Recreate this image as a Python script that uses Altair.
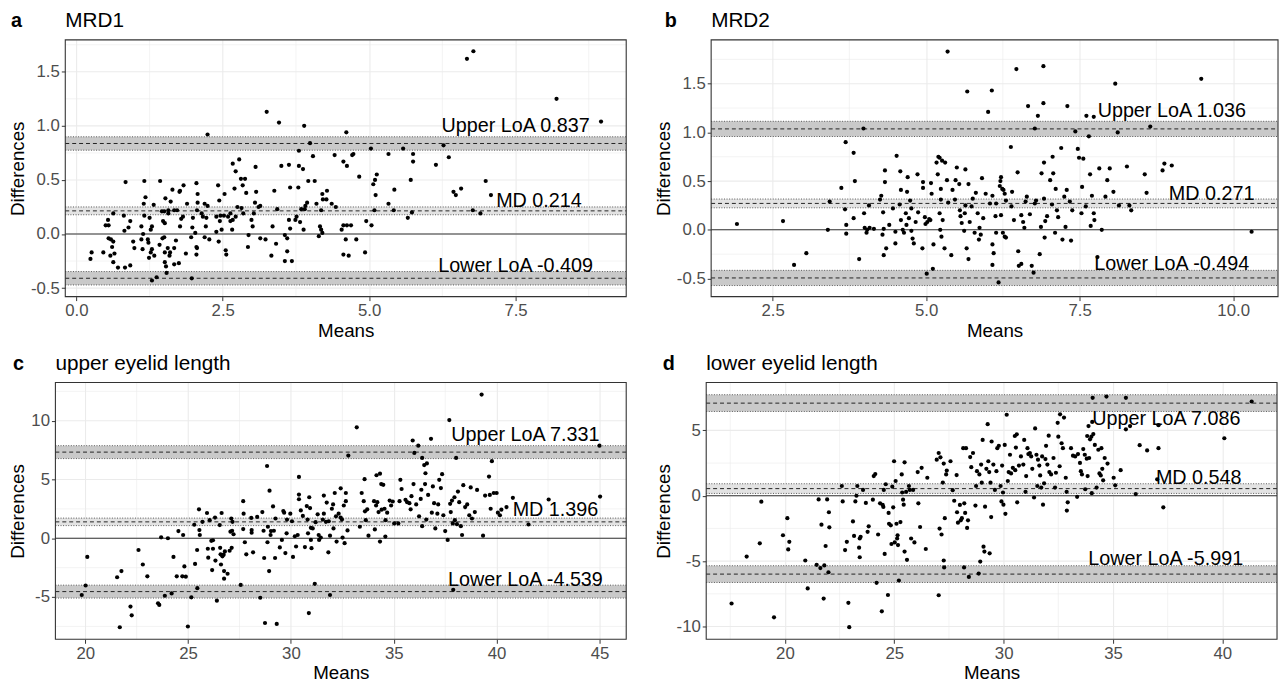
import altair as alt
import pandas as pd

FONT = "Liberation Sans"

# ---------------- data ----------------
A_POINTS = [(6.67,1.62),(6.78,1.69),(8.2,1.25),(8.96,1.04),(3.25,1.13),(3.46,1.03),(3.89,1.0),(2.24,0.92),(4.61,0.94),(3.99,0.84),(6.27,0.82),
(5.03,0.79),(5.58,0.79),(5.75,0.74),(5.33,0.74),(4.04,0.72),(4.41,0.73),(4.71,0.73),(4.73,0.74),(6.36,0.71),(3.80,0.77),(5.75,0.67),(6.14,0.64),(4.56,0.67),(4.62,0.63),(2.67,0.65),(2.78,0.69),(2.72,0.58),(3.06,0.62),(3.5,0.63),(3.63,0.64),(3.8,0.63),(3.87,0.6),(4.83,0.53),(5.13,0.55),(5.1,0.5),(5.07,0.46),(5.71,0.5),(6.99,0.49),(7.08,0.36),(6.44,0.39),(6.48,0.36),(6.57,0.42),(6.90,0.19),(6.77,0.22),(5.73,0.2),(5.66,0.15),(5.43,0.41),(5.33,0.28),(5.42,0.22),(5.09,0.22),(5.11,0.36),(4.95,0.12),(5.04,0.08),(4.56,0.08),(4.62,0.08),(4.69,0.08),(4.53,0.04),(4.78,-0.05),(4.6,-0.05),(4.56,-0.19),(4.65,-0.2),(4.93,-0.17),(4.43,0.25),(4.36,0.28),(4.28,0.40),(4.2,0.37),(4.27,0.32),(4.07,0.49),(3.96,0.49),(4.21,0.32),(4.1,0.28),(4.18,0.22),(4.16,0.07),(4.18,0.04),(4.14,-0.02),(4.2,0.01),(3.88,0.04),(3.9,0.23),(3.94,0.29),(3.91,0.26),(3.84,0.23),(3.76,0.16),(3.82,0.11),(3.74,0.13),(3.63,0.13),(3.65,0.05),(3.56,-0.01),(3.6,-0.04),(3.6,-0.16),(3.56,-0.25),(3.68,-0.25),(3.41,-0.09),(3.33,-0.2),(3.35,0.07),(3.43,0.23),(3.38,0.4),(3.79,0.43),(3.65,0.43),(3.23,-0.05),(3.14,-0.04),(2.93,-0.12),(2.94,-0.01),(3.01,0.07),(2.99,0.13),(3.03,0.19),(3.11,0.25),(3.05,0.29),(3.14,0.26),(3.07,0.39),(2.9,0.38),(2.84,0.45),(2.88,0.51),(2.81,0.51),(2.82,0.24),(2.75,0.25),(2.85,0.19),(2.72,0.16),(2.67,0.13),(2.63,0.12),(2.59,0.16),(2.52,0.17),(2.63,0.19),(2.44,0.31),(2.53,0.37),(2.42,0.45),(2.70,0.42),(2.66,0.04),(2.55,-0.15),(2.56,-0.19),(2.43,-0.07),(2.48,0.04),(2.39,0.02),(2.39,0.16),(2.45,0.12),(2.46,0.17),(2.24,0.26),(2.19,0.28),(2.14,0.19),(2.07,0.29),(2.07,0.37),(2.05,0.47),(2.06,0.22),(2.16,0.16),(2.22,0.15),(2.21,0.07),(2.19,-0.03),(2.27,-0.05),(2.03,0.01),(2.06,-0.13),(2.05,-0.12),(2.05,-0.19),(1.96,-0.03),(1.98,0.06),(1.99,0.15),(1.97,-0.41),(1.89,0.28),(1.82,0.16),(1.79,0.14),(1.77,0.07),(1.83,0.45),(1.77,0.4),(1.76,0.39),(1.64,0.41),(1.67,0.22),(1.72,0.22),(1.57,0.22),(1.50,0.21),(1.46,0.21),(1.52,0.33),(1.61,0.30),(1.57,0.19),(1.51,0.10),(1.48,0.12),(1.43,0.49),(1.42,-0.1),(1.5,-0.03),(1.47,-0.04),(1.51,-0.17),(1.60,-0.17),(1.59,-0.2),(1.56,-0.13),(1.67,-0.13),(1.70,-0.06),(1.67,-0.28),(1.51,-0.26),(1.53,-0.3),(1.54,-0.36),(1.75,-0.27),(1.87,-0.18),(1.37,-0.40),(1.29,-0.43),(1.33,-0.20),(1.27,-0.17),(1.29,-0.14),(1.27,0.04),(1.29,0.07),(1.32,0.27),(1.25,0.15),(1.22,-0.05),(1.24,-0.22),(1.23,-0.08),(1.18,0.34),(1.15,0.28),(1.16,0.49),(1.16,0.17),(1.14,0.00),(1.11,0.07),(1.11,-0.05),(1.13,-0.14),(0.99,-0.13),(0.97,-0.07),(0.92,0.12),(0.89,0.06),(0.84,0.48),(0.82,0.03),(0.83,-0.31),(0.92,-0.29),(0.71,-0.31),(0.81,0.17),(0.65,-0.18),(0.58,-0.20),(0.63,-0.26),(0.61,-0.12),(0.59,-0.05),(0.63,-0.07),(0.55,-0.04),(0.50,0.08),(0.54,0.13),(0.55,0.08),(0.63,0.19),(0.46,-0.17),(0.26,-0.17),(0.24,-0.23)]

B_POINTS = [(1.92,0.06),(2.67,0.09),(2.85,-0.36),(3.05,-0.24),(3.4,0.0),(3.43,0.29),(3.62,0.43),(3.69,0.9),(3.82,0.79),(3.84,0.5),(3.68,0.21),(3.7,0.05),(3.7,-0.04),(3.82,0.12),(3.91,-0.30),(3.98,1.04),(3.99,0.17),(4.0,0.02),(4.04,0.0),(4.03,-0.03),(4.08,0.02),(4.15,0.01),(4.07,0.25),(4.25,0.31),(4.27,0.35),(4.33,0.61),(4.33,0.49),(4.3,0.18),(4.31,0.01),(4.31,-0.26),(4.35,-0.19),(4.29,-0.05),(4.4,0.05),(4.46,0.22),(4.5,-0.02),(4.52,0.76),(4.5,-0.14),(4.57,0.26),(4.59,0.41),(4.58,0.6),(4.59,0.1),(4.62,0.0),(4.64,-0.03),(4.68,0.05),(4.67,0.17),(4.69,0.39),(4.7,0.54),(4.74,0.3),(4.76,0.22),(4.72,0.12),(4.76,-0.01),(4.78,-0.09),(4.8,-0.14),(4.83,0.08),(4.87,0.18),(4.86,0.57),(4.94,-0.19),(4.95,0.49),(4.95,0.43),(4.98,0.13),(4.99,0.06),(5.02,0.08),(5.01,-0.45),(5.07,0.10),(5.08,0.48),(5.09,0.37),(5.05,0.11),(5.11,-0.40),(5.12,-0.15),(5.19,0.57),(5.17,0.69),(5.2,0.75),(5.22,0.74),(5.26,0.71),(5.31,0.69),(5.24,0.42),(5.24,0.31),(5.22,0.17),(5.23,0.0),(5.25,-0.07),(5.27,0.1),(5.3,-0.19),(5.35,1.83),(5.34,0.51),(5.36,0.28),(5.41,-0.26),(5.43,0.41),(5.47,0.31),(5.48,0.51),(5.5,0.64),(5.54,0.47),(5.55,0.2),(5.56,0.14),(5.58,0.07),(5.62,-0.01),(5.63,0.17),(5.64,0.62),(5.64,0.25),(5.66,-0.19),(5.67,1.42),(5.69,-0.30),(5.69,0.47),(5.71,0.08),(5.74,0.24),(5.76,0.32),(5.79,-0.03),(5.81,0.38),(5.84,0.17),(5.86,-0.10),(5.87,0.02),(5.89,-0.05),(5.91,0.53),(5.93,0.12),(5.97,0.37),(6.01,1.21),(6.04,0.27),(6.07,1.43),(6.08,0.35),(6.08,-0.15),(6.08,-0.36),(6.1,-0.24),(6.14,-0.03),(6.13,0.14),(6.14,0.27),(6.18,-0.54),(6.2,0.45),(6.22,0.54),(6.21,0.5),(6.24,0.42),(6.26,0.41),(6.28,0.37),(6.3,0.3),(6.22,0.15),(6.25,-0.03),(6.28,-0.07),(6.3,-0.08),(6.38,0.85),(6.4,0.39),(6.39,0.24),(6.43,0.10),(6.47,1.65),(6.49,0.59),(6.5,-0.22),(6.51,-0.37),(6.55,-0.35),(6.55,0.15),(6.58,0.08),(6.6,0.02),(6.62,0.29),(6.64,0.34),(6.66,1.27),(6.69,0.16),(6.72,-0.37),(6.75,-0.44),(6.77,1.04),(6.77,0.27),(6.79,0.30),(6.82,1.17),(6.85,-0.25),(6.87,0.03),(6.88,0.58),(6.91,1.3),(6.91,1.68),(6.92,0.69),(6.92,0.32),(6.93,-0.08),(6.94,0.09),(6.97,0.14),(7.02,0.51),(7.05,0.26),(7.06,0.75),(7.07,0.58),(7.1,-0.03),(7.11,0.42),(7.13,0.20),(7.15,0.13),(7.2,0.84),(7.22,-0.1),(7.25,0.34),(7.27,0.03),(7.3,1.27),(7.29,0.41),(7.34,0.29),(7.36,-0.11),(7.38,0.2),(7.43,1.01),(7.47,0.83),(7.49,0.74),(7.53,0.17),(7.56,0.73),(7.54,0.44),(7.61,1.17),(7.6,0.24),(7.65,0.96),(7.67,0.57),(7.68,0.04),(7.7,0.35),(7.73,1.16),(7.73,0.17),(7.74,0.10),(7.82,0.63),(7.86,0.0),(7.92,0.34),(7.95,0.51),(7.99,0.63),(8.05,0.39),(8.08,1.5),(8.12,1.0),(8.14,0.25),(8.27,0.65),(8.31,0.25),(8.34,0.2),(8.56,0.57),(8.59,0.38),(8.65,1.06),(8.85,0.61),(8.88,0.68),(9.0,0.66),(9.48,1.55),(10.3,-0.02),(7.79,-0.28)]

C_POINTS = [(19.83,-4.83),(20.02,-4.02),(20.1,-1.59),(21.55,-3.32),(21.68,-7.57),(21.76,-2.79),(22.2,-5.81),(22.26,-6.56),(22.59,-1.0),(22.8,-2.23),(23.02,-3.24),(23.54,-5.53),(23.6,-5.67),(23.69,0.08),(23.87,-4.89),(24.02,0.0),(24.2,-4.69),(24.29,-1.59),(24.45,-3.24),(24.53,0.61),(24.76,0.28),(24.82,-2.40),(24.72,-3.24),(24.89,-3.27),(24.99,-7.51),(25.16,-5.03),(25.3,1.15),(25.34,-2.18),(25.44,-1.0),(25.45,-4.25),(25.53,2.46),(25.55,0.70),(25.57,0.28),(25.7,1.40),(25.92,2.15),(25.96,-0.89),(25.98,-1.65),(26.05,1.54),(26.17,-2.71),(26.13,-0.22),(26.21,-0.17),(26.21,-0.89),(26.31,1.76),(26.33,-1.90),(26.4,-5.31),(26.54,1.12),(26.56,-0.81),(26.58,-1.37),(26.63,2.15),(26.67,-1.54),(26.73,-1.40),(26.6,-2.23),(26.75,-2.79),(26.75,-3.44),(26.79,-1.12),(26.92,-3.02),(27.02,-1.06),(27.1,1.68),(27.06,0.56),(27.12,-0.81),(27.16,1.4),(27.14,0.64),(27.21,0.34),(27.56,-3.97),(27.68,3.16),(27.68,0.78),(27.7,2.09),(27.76,-0.34),(27.83,-1.37),(28.07,1.73),(28.09,0.70),(28.09,0.47),(28.16,-1.20),(28.36,1.82),(28.51,-5.06),(28.61,2.23),(28.67,0.64),(28.7,-1.68),(28.74,-7.21),(28.84,6.15),(28.86,-0.34),(28.88,0.98),(28.94,-2.79),(28.96,4.05),(29.01,0.28),(29.03,0.61),(29.13,2.71),(29.17,0.64),(29.23,-1.68),(29.25,1.68),(29.31,-7.29),(29.46,-0.78),(29.56,-0.14),(29.63,2.32),(29.67,2.18),(29.73,-1.26),(29.79,0.42),(29.81,1.59),(29.97,2.09),(30.05,1.45),(30.1,-1.59),(30.19,0.17),(30.25,-0.70),(30.33,0.28),(30.39,3.72),(30.39,5.22),(30.39,3.32),(30.48,2.37),(30.58,1.90),(30.68,-0.75),(30.77,2.74),(30.81,1.59),(30.83,0.42),(30.87,-6.37),(30.89,3.49),(30.93,2.57),(30.97,-0.14),(30.97,0.89),(31.06,0.84),(31.0,-0.84),(31.16,-3.88),(31.2,1.37),(31.3,2.04),(31.35,0.28),(31.37,-0.14),(31.45,0.06),(31.55,1.59),(31.6,2.09),(31.6,3.63),(31.7,1.40),(31.74,3.04),(31.82,-1.20),(31.84,1.45),(31.9,-4.83),(31.9,0.22),(31.99,2.51),(32.05,2.88),(32.07,0.84),(32.13,3.85),(32.19,1.87),(32.22,-0.28),(32.32,2.09),(32.42,4.25),(32.42,1.76),(32.48,1.59),(32.51,0.06),(32.57,2.79),(32.61,-0.42),(32.67,3.85),(32.67,3.16),(32.75,0.67),(32.79,7.04),(33.2,9.44),(33.35,0.98),(33.44,3.85),(33.54,3.16),(33.58,5.03),(33.6,2.29),(33.64,1.54),(33.71,2.46),(33.77,0.22),(34.04,3.16),(34.08,0.75),(34.14,2.79),(34.16,5.36),(34.2,3.07),(34.26,2.23),(34.33,5.5),(34.33,-0.28),(34.39,4.61),(34.41,2.43),(34.49,4.55),(34.55,2.51),(34.59,0.14),(34.6,1.54),(34.68,2.18),(34.8,3.21),(34.87,2.79),(34.95,3.13),(35.02,1.26),(35.22,1.26),(35.28,3.16),(35.32,4.97),(35.38,4.19),(35.57,3.27),(35.65,3.07),(35.76,2.99),(35.82,2.46),(35.86,3.58),(35.92,8.32),(35.96,4.61),(36.0,7.26),(36.09,2.88),(36.19,7.88),(36.23,1.87),(36.31,3.35),(36.34,4.13),(36.38,6.84),(36.38,1.03),(36.48,6.23),(36.52,4.61),(36.54,5.53),(36.58,1.59),(36.61,6.37),(36.67,3.69),(36.81,8.46),(36.85,2.18),(36.9,4.41),(36.96,2.99),(37.02,0.84),(37.12,2.09),(37.16,2.88),(37.21,4.97),(37.29,4.27),(37.35,5.45),(37.41,1.96),(37.5,0.61),(37.62,-0.14),(37.7,10.06),(37.74,2.93),(37.77,2.23),(37.83,3.21),(37.87,1.26),(37.89,-4.39),(37.95,3.49),(37.97,1.54),(38.03,6.84),(38.07,1.20),(38.12,3.97),(38.18,3.07),(38.26,1.03),(38.32,0.28),(38.38,4.52),(38.47,2.65),(38.57,2.88),(38.67,1.96),(38.74,4.33),(38.8,1.68),(38.94,2.23),(39.05,4.11),(39.27,12.23),(39.34,0.22),(39.44,3.63),(39.63,5.25),(39.67,3.69),(39.71,2.51),(39.77,6.56),(39.86,3.85),(40.0,3.85),(40.06,2.18),(40.16,1.96),(40.23,2.43),(40.79,3.44),(40.48,2.65),(41.55,1.17),(42.53,3.3),(45.0,7.88),(45.03,3.55)]

D_POINTS = [(17.56,-8.24),(18.25,-4.65),(18.85,-3.64),(18.92,-0.45),(19.5,-9.3),(19.91,-3.02),(20.11,-1.71),(20.15,-4.1),(20.2,-3.52),(20.93,-4.95),(21.04,-7.09),(21.45,-5.28),(21.54,-0.28),(21.62,-5.53),(21.67,-2.21),(21.77,-7.86),(21.8,-5.33),(21.86,-3.84),(21.93,-0.28),(21.99,-5.85),(22.01,-1.26),(22.03,-2.41),(22.6,0.75),(22.64,-0.43),(22.75,-4.15),(22.83,-3.52),(22.9,-8.19),(22.94,-10.05),(23.11,-1.96),(23.16,-3.07),(23.22,-0.43),(23.27,0.0),(23.31,0.75),(23.39,-3.97),(23.42,-3.27),(23.42,-4.70),(23.46,-3.14),(23.57,0.45),(23.7,-0.55),(23.78,-2.76),(23.83,-2.34),(24.02,-0.30),(24.06,1.51),(24.13,1.66),(24.19,-6.66),(24.26,-2.96),(24.35,-0.58),(24.43,-8.84),(24.47,-0.70),(24.5,-0.85),(24.52,0.45),(24.56,-4.45),(24.61,0.88),(24.71,-7.59),(24.74,-1.31),(24.76,-2.14),(24.84,-2.26),(24.87,-3.69),(24.91,0.70),(24.95,-0.88),(24.99,2.64),(25.02,-3.57),(25.06,1.13),(25.1,-2.14),(25.13,-3.27),(25.15,-3.02),(25.17,-3.77),(25.21,-6.48),(25.28,-2.01),(25.34,1.63),(25.36,0.25),(25.4,-0.30),(25.43,-0.68),(25.47,2.56),(25.47,-4.27),(25.54,0.30),(25.58,-4.90),(25.67,0.75),(25.71,0.45),(25.77,-3.27),(25.86,0.45),(25.92,-3.57),(26.07,1.81),(26.1,-0.58),(26.18,-2.39),(26.25,2.14),(26.44,-4.07),(26.51,1.38),(26.94,2.76),(27.03,3.27),(27.03,-7.61),(27.07,-2.51),(27.11,2.94),(27.16,-2.96),(27.22,1.01),(27.26,-4.95),(27.28,-5.48),(27.26,2.46),(27.31,-1.71),(27.37,1.63),(27.4,1.93),(27.57,2.64),(27.67,0.43),(27.74,-0.38),(27.85,1.58),(27.87,-1.26),(27.91,-2.06),(28.0,-0.70),(28.04,-1.88),(28.09,-1.71),(28.15,3.64),(28.19,-5.48),(28.2,-0.58),(28.24,-1.31),(28.28,3.64),(28.33,-2.46),(28.37,-1.88),(28.41,-6.21),(28.47,2.96),(28.52,2.19),(28.6,3.27),(28.71,-0.75),(28.74,0.75),(28.78,1.88),(28.86,-5.95),(28.89,1.63),(28.93,-5.03),(28.97,2.39),(29.0,1.0),(29.04,4.27),(29.08,-3.89),(29.12,-4.27),(29.15,-0.83),(29.21,2.06),(29.27,5.48),(29.3,2.64),(29.34,1.81),(29.36,-4.40),(29.4,1.0),(29.43,-1.63),(29.45,4.15),(29.53,2.39),(29.6,0.45),(29.67,1.88),(29.71,3.64),(29.78,3.82),(29.86,0.75),(29.9,-0.43),(29.93,2.31),(29.97,0.25),(29.99,-0.68),(30.05,3.89),(30.08,-1.38),(30.14,6.2),(30.19,1.13),(30.23,1.81),(30.29,3.14),(30.34,1.71),(30.42,2.14),(30.51,4.57),(30.53,1.96),(30.56,3.69),(30.6,4.70),(30.62,-0.50),(30.7,2.31),(30.79,3.01),(30.9,2.39),(30.94,4.27),(31.0,0.30),(31.03,1.51),(31.09,3.64),(31.13,3.19),(31.2,3.27),(31.26,3.01),(31.31,2.06),(31.39,-0.13),(31.44,5.15),(31.5,3.14),(31.54,0.75),(31.57,2.76),(31.63,2.31),(31.67,1.56),(31.72,0.63),(31.76,3.01),(31.8,-0.68),(31.85,0.95),(31.91,2.81),(31.94,3.82),(32.0,2.39),(32.06,4.60),(32.09,1.81),(32.17,1.63),(32.28,2.89),(32.35,0.63),(32.39,1.76),(32.47,5.58),(32.5,4.52),(32.56,2.26),(32.58,6.23),(32.65,4.02),(32.71,3.64),(32.76,5.98),(32.84,1.38),(32.88,0.30),(32.89,-1.13),(32.93,-0.50),(33.08,3.64),(33.17,3.07),(33.27,3.01),(33.36,-0.08),(33.4,3.19),(33.49,2.51),(33.53,1.88),(33.58,1.63),(33.64,3.57),(33.71,3.14),(33.73,0.50),(33.8,2.84),(33.82,4.57),(33.84,1.51),(33.88,5.33),(33.91,2.89),(33.95,4.32),(34.03,0.20),(34.01,4.52),(34.05,5.65),(34.07,7.49),(34.1,4.72),(34.17,3.89),(34.25,0.63),(34.33,3.52),(34.38,1.71),(34.44,1.56),(34.47,3.64),(34.51,2.06),(34.55,1.18),(34.62,2.89),(34.7,7.59),(34.75,2.46),(35.03,1.38),(35.1,0.80),(35.35,1.96),(35.59,5.08),(35.59,7.49),(35.78,5.33),(36.04,0.13),(36.22,3.87),(36.56,3.47),(37.08,3.64),(37.08,5.40),(37.02,1.26),(37.3,-0.88),(40.09,4.40),(41.34,7.21)]

# panel meta: letter, title
LETTERS = ["a", "b", "c", "d"]
TITLES = ["MRD1", "MRD2", "upper eyelid length", "lower eyelid length"]

# mean difference, its CI, upper LoA, CI, lower LoA, CI
MD = [0.214, 0.271, 1.396, 0.548]
MD_CI = [(0.178, 0.250), (0.226, 0.316), (1.076, 1.716), (0.18, 0.92)]
UPPER = [0.837, 1.036, 7.331, 7.086]
UPPER_CI = [(0.775, 0.899), (0.958, 1.114), (6.78, 7.88), (6.45, 7.73)]
LOWER = [-0.409, -0.494, -4.539, -5.991]
LOWER_CI = [(-0.471, -0.347), (-0.572, -0.416), (-5.09, -3.99), (-6.63, -5.35)]

# annotation texts and their anchor positions (mean, difference)
LABEL_TEXTS = [
    ["Upper LoA 0.837", "MD 0.214", "Lower LoA -0.409"],
    ["Upper LoA 1.036", "MD 0.271", "Lower LoA -0.494"],
    ["Upper LoA 7.331", "MD 1.396", "Lower LoA -4.539"],
    ["Upper LoA 7.086", "MD 0.548", "Lower LoA -5.991"],
]
LABEL_X = [[7.5, 7.9, 7.5], [9.0, 9.65, 9.0], [41.4, 42.86, 41.4], [37.44, 38.92, 37.41]]
LABEL_Y = [[1.0, 0.30, -0.30], [1.22, 0.37, -0.35], [8.8, 2.37, -3.58], [5.83, 1.38, -4.82]]

# axes
X_DOMAIN = [(-0.19, 9.39), (1.5, 10.73), (18.55, 46.3), (16.4, 42.5)]
Y_DOMAIN = [(-0.579, 1.795), (-0.686, 1.95), (-8.6, 13.25), (-10.98, 8.66)]
X_TICKS = [[0, 2.5, 5, 7.5], [2.5, 5, 7.5, 10], [20, 25, 30, 35, 40, 45], [20, 25, 30, 35, 40]]
X_MINOR = [[1.25, 3.75, 6.25, 8.75], [3.75, 6.25, 8.75], [22.5, 27.5, 32.5, 37.5, 42.5], [17.5, 22.5, 27.5, 32.5, 37.5, 42.5]]
Y_TICKS = [[-0.5, 0, 0.5, 1.0, 1.5], [-0.5, 0, 0.5, 1.0, 1.5], [-5, 0, 5, 10], [-10, -5, 0, 5]]
Y_MINOR = [[-0.25, 0.25, 0.75, 1.25, 1.75], [-0.25, 0.25, 0.75, 1.25, 1.75], [-7.5, -2.5, 2.5, 7.5, 12.5], [-7.5, -2.5, 2.5, 7.5]]
DECIMALS = [1, 1, 0, 0]

POINTS = [A_POINTS, B_POINTS, C_POINTS, D_POINTS]

# layout: view sizes, and how far the frame of a panel reaches left of its view origin
WIDTHS = [568, 574, 568, 578]
HEIGHTS = [260, 260, 260, 260]
INSET = [0, 0, 10, 0]
LETTER_DX = [-55, -47, -53, -44]
TITLE_Y = -19

GRID = "#ebebeb"


def label_expr(dec):
    return ("datum.value < 0 ? '-' + format(-datum.value, '.%df') : format(datum.value, '.%df')" % (dec, dec))


def panel(i):
    w, h, ins = WIDTHS[i], HEIGHTS[i], INSET[i]
    xs = alt.Scale(domain=list(X_DOMAIN[i]), range=[-ins, w], nice=False, zero=False)
    ys = alt.Scale(domain=list(Y_DOMAIN[i]), nice=False, zero=False)
    xax = alt.Axis(values=X_TICKS[i], title="Means", labelExpr=label_expr(DECIMALS[i]), grid=True)
    yax = alt.Axis(values=Y_TICKS[i], title="Differences", labelExpr=label_expr(DECIMALS[i]),
                   grid=False, offset=ins)

    def hrule(vals, **kw):
        return alt.Chart(pd.DataFrame({"v": vals})).mark_rule(**kw).encode(
            y=alt.Y("v:Q", scale=ys, axis=yax), x=alt.value(-ins), x2=alt.value(w))

    xminor = alt.Chart(pd.DataFrame({"v": X_MINOR[i]})).mark_rule(
        color=GRID, strokeWidth=0.6).encode(x=alt.X("v:Q", scale=xs, axis=xax))
    yminor = hrule(Y_MINOR[i], color=GRID, strokeWidth=0.6)
    ymajor = hrule(Y_TICKS[i], color=GRID, strokeWidth=1.1)

    bands = pd.DataFrame({
        "lo": [MD_CI[i][0], UPPER_CI[i][0], LOWER_CI[i][0]],
        "hi": [MD_CI[i][1], UPPER_CI[i][1], LOWER_CI[i][1]],
        "kind": ["md", "loa", "loa"],
    })
    band = alt.Chart(bands).mark_rect().encode(
        x=alt.value(-ins), x2=alt.value(w),
        y=alt.Y("lo:Q", scale=ys, axis=yax), y2="hi:Q",
        color=alt.Color("kind:N", scale=alt.Scale(domain=["md", "loa"], range=["#e3e3e3", "#c9c9c9"]), legend=None),
    )
    ci_vals = [MD_CI[i][0], MD_CI[i][1], UPPER_CI[i][0], UPPER_CI[i][1], LOWER_CI[i][0], LOWER_CI[i][1]]
    dotted = hrule(ci_vals, color="#555555", strokeWidth=1, strokeDash=[1, 1.6])
    dashed = hrule([LOWER[i], MD[i], UPPER[i]], color="#222222", strokeWidth=1, strokeDash=[4, 3])
    zero = hrule([0], color="#333333", strokeWidth=1.1)

    pts = pd.DataFrame(POINTS[i], columns=["m", "d"])
    dots = alt.Chart(pts).mark_circle(size=18, color="black", opacity=1).encode(
        x=alt.X("m:Q", scale=xs, axis=xax), y=alt.Y("d:Q", scale=ys, axis=yax))

    labs = pd.DataFrame({"t": LABEL_TEXTS[i], "x": LABEL_X[i], "y": LABEL_Y[i]})
    texts = alt.Chart(labs).mark_text(fontSize=20, font=FONT, color="black", align="center", baseline="middle").encode(
        x=alt.X("x:Q", scale=xs, axis=xax), y=alt.Y("y:Q", scale=ys, axis=yax), text="t:N")

    frame = alt.Chart(pd.DataFrame({"k": [0]})).mark_rect(
        fillOpacity=0, stroke="#333333", strokeWidth=1.1).encode(
        x=alt.value(-ins), x2=alt.value(w), y=alt.value(0), y2=alt.value(h))

    letter = alt.Chart(pd.DataFrame({"t": [LETTERS[i]]})).mark_text(
        fontSize=20, font=FONT, fontWeight="bold", color="black", align="left", baseline="middle").encode(
        x=alt.value(LETTER_DX[i]), y=alt.value(TITLE_Y), text="t:N")
    title = alt.Chart(pd.DataFrame({"t": [TITLES[i]]})).mark_text(
        fontSize=21, font=FONT, color="black", align="left", baseline="middle").encode(
        x=alt.value(-ins), y=alt.value(TITLE_Y), text="t:N")

    return alt.layer(xminor, yminor, ymajor, band, dotted, dashed, zero, dots, texts, frame,
                     letter, title).properties(width=w, height=h)


chart = alt.concat(
    panel(0), panel(1), panel(2), panel(3),
    columns=2, align="none", spacing={"row": 13, "column": 18},
).properties(
    background="white", padding={"left": 0, "top": -2, "right": 0, "bottom": 0}
).configure_view(
    stroke=None
).configure_axis(
    domain=False, gridColor=GRID, gridWidth=1.1,
    tickColor="#333333", tickSize=4, labelPadding=2,
    labelFont=FONT, labelFontSize=17, labelColor="#4d4d4d",
    titleFont=FONT, titleFontSize=19, titleFontWeight="normal", titleColor="black", titlePadding=3,
)

chart.save("out.html", embed_options={"renderer": "svg", "actions": False})
